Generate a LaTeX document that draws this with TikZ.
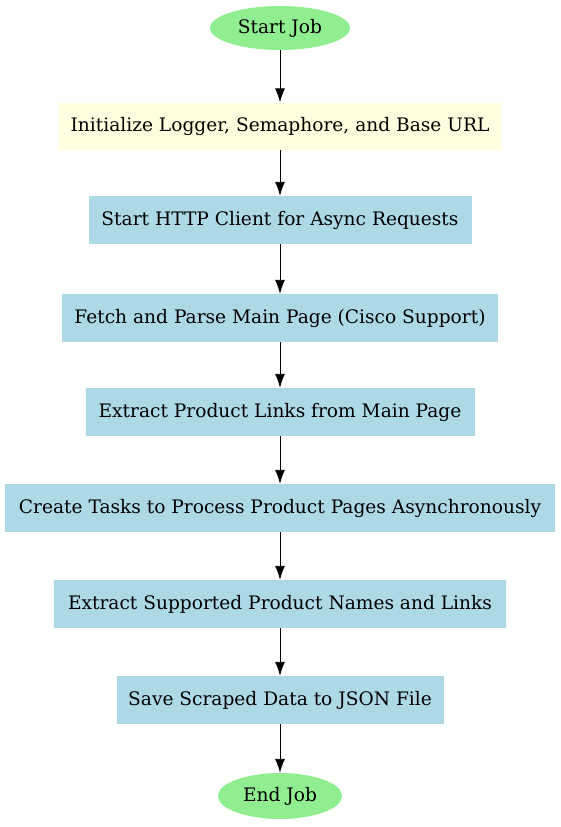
\documentclass[tikz,border=0pt]{standalone}
\usepackage{fontspec}
\setmainfont{DejaVu Serif}
\usetikzlibrary{arrows.meta,shapes.geometric}
\definecolor{lgreen}{HTML}{90EE90}
\definecolor{lyellow}{HTML}{FFFFE0}
\definecolor{lblue}{HTML}{ADD8E6}
\tikzset{
  txt/.style={font=\fontsize{18.6}{22}\selectfont, inner sep=0pt},
  term/.style={txt, ellipse, fill=lgreen, minimum height=44pt},
  initbox/.style={txt, rectangle, fill=lyellow, minimum height=47pt},
  stepbox/.style={txt, rectangle, fill=lblue, minimum height=48pt},
  arr/.style={-{Latex[length=14pt,width=10pt]}, line width=0.9pt}
}
\begin{document}
\begin{tikzpicture}
\useasboundingbox (0,0) rectangle (560pt,-827pt);
\node[term, minimum width=140pt] (start) at (280pt,-28pt) {Start Job};
\node[initbox, minimum width=442pt] (init) at (280pt,-126pt) {Initialize Logger, Semaphore, and Base URL};
\node[stepbox, minimum width=383pt] (http) at (280pt,-220pt) {Start HTTP Client for Async Requests};
\node[stepbox, minimum width=436pt] (fetch) at (280pt,-318pt) {Fetch and Parse Main Page (Cisco Support)};
\node[stepbox, minimum width=389pt] (extract) at (280pt,-412pt) {Extract Product Links from Main Page};
\node[stepbox, minimum width=550pt] (tasks) at (280pt,-508pt) {Create Tasks to Process Product Pages Asynchronously};
\node[stepbox, minimum width=452pt] (names) at (280pt,-604pt) {Extract Supported Product Names and Links};
\node[stepbox, minimum width=327pt] (save) at (280pt,-700pt) {Save Scraped Data to JSON File};
\node[term, minimum width=124pt, minimum height=46pt] (end) at (280pt,-796pt) {End Job};
\draw[arr] (start) -- (init);
\draw[arr] (init) -- (http);
\draw[arr] (http) -- (fetch);
\draw[arr] (fetch) -- (extract);
\draw[arr] (extract) -- (tasks);
\draw[arr] (tasks) -- (names);
\draw[arr] (names) -- (save);
\draw[arr] (save) -- (end);
\end{tikzpicture}
\end{document}
